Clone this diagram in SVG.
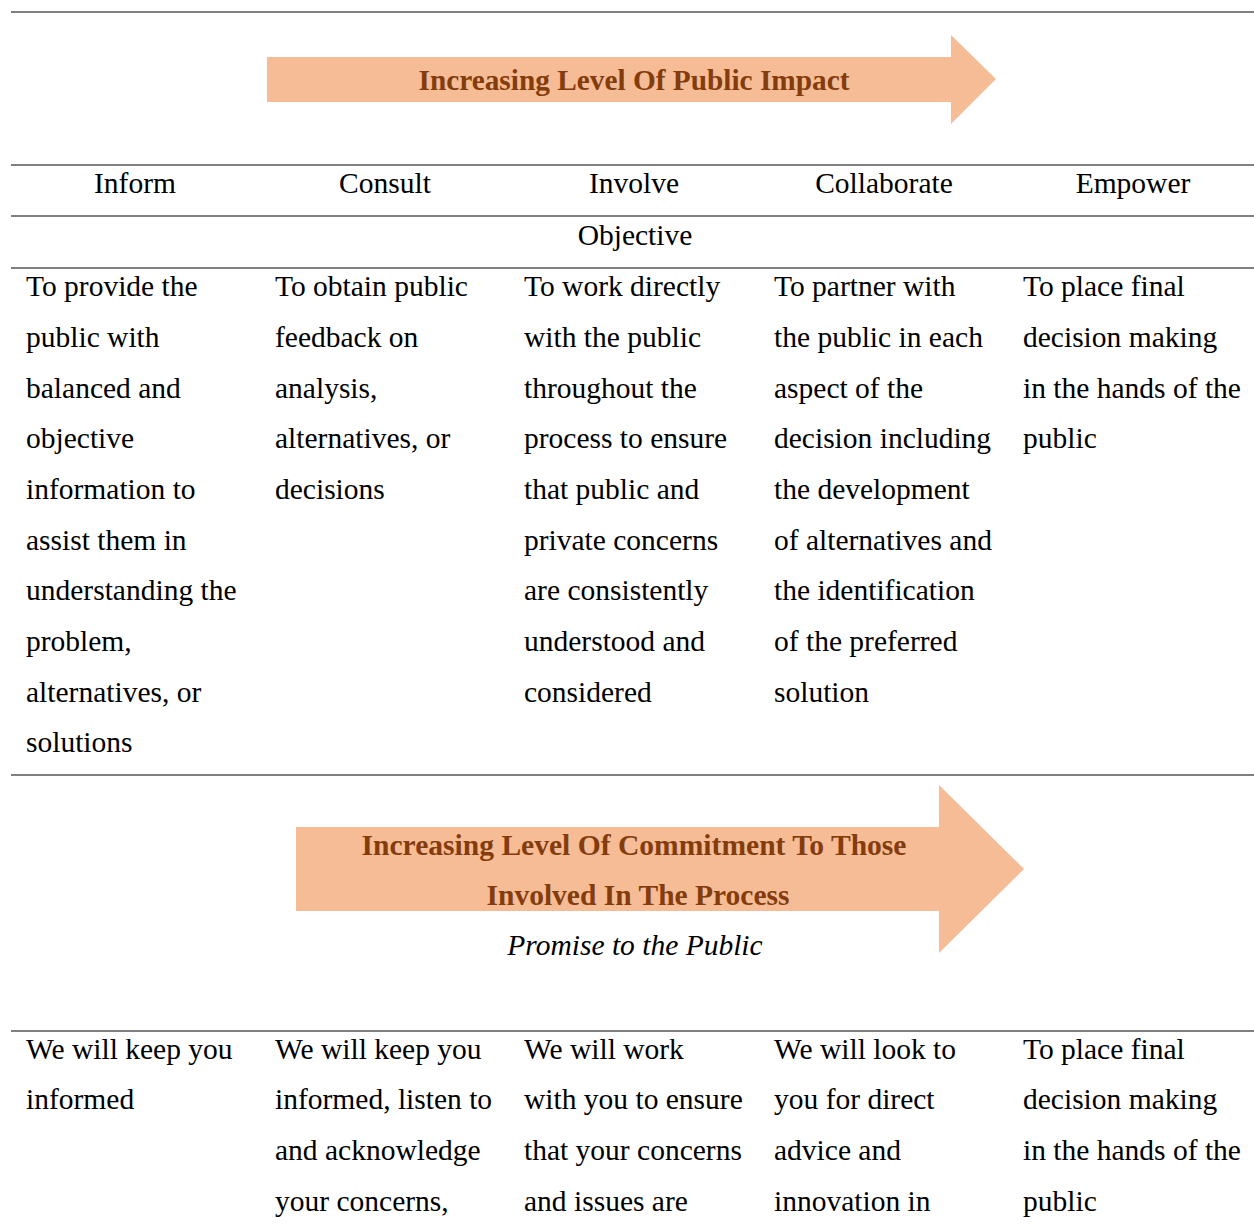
<svg xmlns="http://www.w3.org/2000/svg" width="1254" height="1228" viewBox="0 0 1254 1228">
<style>
.rule{stroke:#808080;stroke-width:2;fill:none}
.arrow{fill:#F5BC96;stroke:none}
.at{font-family:"Liberation Serif","Times New Roman",serif;font-weight:bold;font-size:30px;fill:#843C0C;text-anchor:middle}
.t{font-family:"Liberation Serif","Times New Roman",serif;font-size:29.5px;fill:#000}
.c{text-anchor:middle}
.i{font-style:italic}
</style>
<rect width="1254" height="1228" fill="#fff"/>
<g id="rules">
<line class="rule" x1="11" y1="12" x2="1254" y2="12"/>
<line class="rule" x1="11" y1="165" x2="1254" y2="165"/>
<line class="rule" x1="11" y1="216" x2="1254" y2="216"/>
<line class="rule" x1="11" y1="268" x2="1254" y2="268"/>
<line class="rule" x1="11" y1="775" x2="1254" y2="775"/>
<line class="rule" x1="11" y1="1031" x2="1254" y2="1031"/>
</g>
<g id="arrow-impact">
<polygon class="arrow" points="267,57 951,57 951,35 996,79 951,124 951,102 267,102"/>
<text class="at" x="634" y="90" textLength="431" lengthAdjust="spacingAndGlyphs">Increasing Level Of Public Impact</text>
</g>
<g id="arrow-commitment">
<polygon class="arrow" points="296,827 939,827 939,785 1024,869 939,953 939,911 296,911"/>
<text class="at" x="634" y="855" textLength="545" lengthAdjust="spacingAndGlyphs">Increasing Level Of Commitment To Those</text>
<text class="at" x="638" y="905" textLength="303" lengthAdjust="spacingAndGlyphs">Involved In The Process</text>
<text class="t c i" x="635" y="955">Promise to the Public</text>
</g>
<g id="header">
<text class="t c" x="135" y="193">Inform</text>
<text class="t c" x="385" y="193">Consult</text>
<text class="t c" x="634" y="193">Involve</text>
<text class="t c" x="884" y="193">Collaborate</text>
<text class="t c" x="1133" y="193">Empower</text>
<text class="t c" x="635" y="245">Objective</text>
</g>
<g id="objective-inform">
<text class="t" x="26" y="296">To provide the</text>
<text class="t" x="26" y="347">public with</text>
<text class="t" x="26" y="398">balanced and</text>
<text class="t" x="26" y="448">objective</text>
<text class="t" x="26" y="499">information to</text>
<text class="t" x="26" y="550">assist them in</text>
<text class="t" x="26" y="600">understanding the</text>
<text class="t" x="26" y="651">problem,</text>
<text class="t" x="26" y="702">alternatives, or</text>
<text class="t" x="26" y="752">solutions</text>
</g>
<g id="objective-consult">
<text class="t" x="275" y="296">To obtain public</text>
<text class="t" x="275" y="347">feedback on</text>
<text class="t" x="275" y="398">analysis,</text>
<text class="t" x="275" y="448">alternatives, or</text>
<text class="t" x="275" y="499">decisions</text>
</g>
<g id="objective-involve">
<text class="t" x="524" y="296">To work directly</text>
<text class="t" x="524" y="347">with the public</text>
<text class="t" x="524" y="398">throughout the</text>
<text class="t" x="524" y="448">process to ensure</text>
<text class="t" x="524" y="499">that public and</text>
<text class="t" x="524" y="550">private concerns</text>
<text class="t" x="524" y="600">are consistently</text>
<text class="t" x="524" y="651">understood and</text>
<text class="t" x="524" y="702">considered</text>
</g>
<g id="objective-collaborate">
<text class="t" x="774" y="296">To partner with</text>
<text class="t" x="774" y="347">the public in each</text>
<text class="t" x="774" y="398">aspect of the</text>
<text class="t" x="774" y="448">decision including</text>
<text class="t" x="774" y="499">the development</text>
<text class="t" x="774" y="550">of alternatives and</text>
<text class="t" x="774" y="600">the identification</text>
<text class="t" x="774" y="651">of the preferred</text>
<text class="t" x="774" y="702">solution</text>
</g>
<g id="objective-empower">
<text class="t" x="1023" y="296">To place final</text>
<text class="t" x="1023" y="347">decision making</text>
<text class="t" x="1023" y="398">in the hands of the</text>
<text class="t" x="1023" y="448">public</text>
</g>
<g id="promise-inform">
<text class="t" x="26" y="1059">We will keep you</text>
<text class="t" x="26" y="1109">informed</text>
</g>
<g id="promise-consult">
<text class="t" x="275" y="1059">We will keep you</text>
<text class="t" x="275" y="1109">informed, listen to</text>
<text class="t" x="275" y="1160">and acknowledge</text>
<text class="t" x="275" y="1211">your concerns,</text>
</g>
<g id="promise-involve">
<text class="t" x="524" y="1059">We will work</text>
<text class="t" x="524" y="1109">with you to ensure</text>
<text class="t" x="524" y="1160">that your concerns</text>
<text class="t" x="524" y="1211">and issues are</text>
</g>
<g id="promise-collaborate">
<text class="t" x="774" y="1059">We will look to</text>
<text class="t" x="774" y="1109">you for direct</text>
<text class="t" x="774" y="1160">advice and</text>
<text class="t" x="774" y="1211">innovation in</text>
</g>
<g id="promise-empower">
<text class="t" x="1023" y="1059">To place final</text>
<text class="t" x="1023" y="1109">decision making</text>
<text class="t" x="1023" y="1160">in the hands of the</text>
<text class="t" x="1023" y="1211">public</text>
</g>
</svg>
